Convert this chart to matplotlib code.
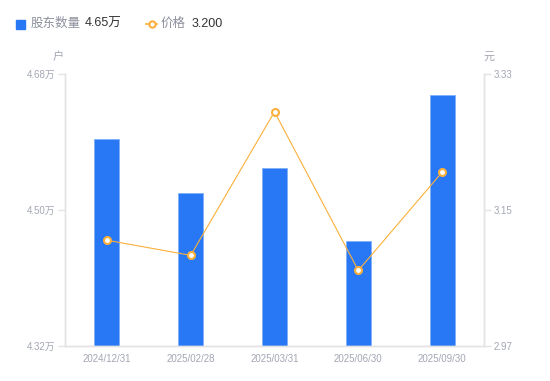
import numpy as np
import matplotlib
matplotlib.use('Agg')
import matplotlib.pyplot as plt
from matplotlib.lines import Line2D
from matplotlib.patches import Rectangle

plt.rcParams['font.family'] = ['Liberation Sans', 'Noto Sans CJK SC', 'DejaVu Sans']

dates = ['2024/12/31', '2025/02/28', '2025/03/31', '2025/06/30', '2025/09/30']
holders = [45940, 45220, 45550, 44590, 46520]   # 股东数量 (户)
price = [3.110, 3.090, 3.280, 3.070, 3.200]     # 价格 (元)

left_ticks = [43200, 45000, 46800]
right_ticks = [2.97, 3.15, 3.33]

blue = '#2878f5'
orange = '#fbb03b'
gray = '#a3a6b4'
spine = '#e3e3e6'

fig = plt.figure(figsize=(5.5, 3.81), dpi=100)
ax = fig.add_axes([65 / 550, 1 - 346 / 381, 419 / 550, 272 / 381])
ax2 = ax.twinx()

x = np.arange(len(dates))
ax.bar(x, holders, width=0.3, color=blue, edgecolor='#7fb0fa', linewidth=0.6, zorder=2)
ax.set_xlim(-0.5, len(dates) - 0.5)
ax.set_ylim(left_ticks[0], left_ticks[-1])
ax.set_yticks(left_ticks)
ax.set_yticklabels(['%.2f万' % (v / 10000) for v in left_ticks])
ax.set_xticks(x)
ax.set_xticklabels(dates)

ax2.plot(x, price, color=orange, linewidth=0.8, marker='o', markersize=5,
         markerfacecolor='white', markeredgecolor=orange, markeredgewidth=1.5, zorder=3)
ax2.set_ylim(right_ticks[0], right_ticks[-1])
ax2.set_yticks(right_ticks)
ax2.set_yticklabels(['%.2f' % v for v in right_ticks])

for a in (ax, ax2):
    a.spines['top'].set_visible(False)
    for s in ('left', 'right', 'bottom'):
        a.spines[s].set_color(spine)
        a.spines[s].set_linewidth(1)
    a.tick_params(axis='y', colors=gray, labelsize=7, length=5, width=1, pad=2,
                  color=spine, labelcolor=gray)
ax.tick_params(axis='x', length=0, labelsize=7, labelcolor=gray, pad=6)
ax2.tick_params(axis='x', length=0)

fig.text(58 / 550, 1 - 57 / 381, '户', fontsize=8, color=gray, ha='center', va='center')
fig.text(489 / 550, 1 - 57 / 381, '元', fontsize=8, color=gray, ha='center', va='center')

# legend
ly = 1 - 24 / 381
fig.patches.append(Rectangle((16 / 550, 1 - 29 / 381), 9 / 550, 9 / 381, color=blue,
                             transform=fig.transFigure, figure=fig))
fig.text(31 / 550, ly, '股东数量', fontsize=9, color='#8c8f9c', va='center')
fig.text(85 / 550, ly, '%.2f万' % (holders[-1] / 10000), fontsize=9, color='#333333', va='center')
fig.lines.append(Line2D([146 / 550, 157 / 550], [ly, ly], color=orange, linewidth=1.2,
                        transform=fig.transFigure))
fig.lines.append(Line2D([151.5 / 550], [ly], color=orange, marker='o', markersize=4.5,
                        markerfacecolor='white', markeredgewidth=1.5, transform=fig.transFigure))
fig.text(161 / 550, ly, '价格', fontsize=9, color='#8c8f9c', va='center')
fig.text(192 / 550, ly, '%.3f' % price[-1], fontsize=9, color='#333333', va='center')

fig.savefig('out.png', dpi=100)
